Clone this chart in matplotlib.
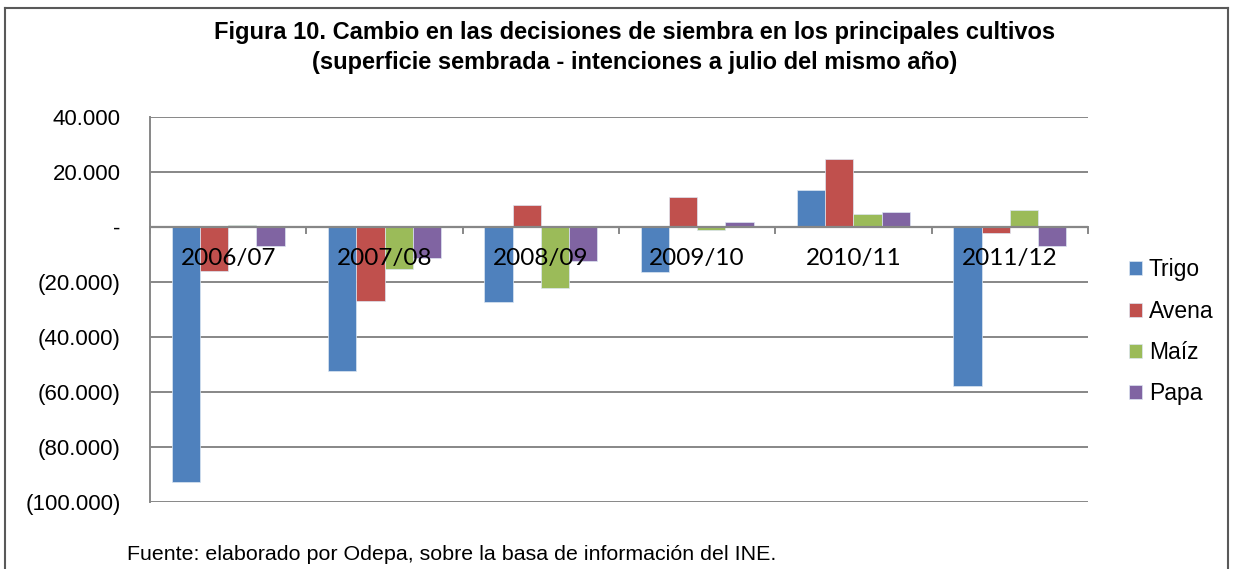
import matplotlib
matplotlib.use('Agg')
import matplotlib.pyplot as plt
import numpy as np
from matplotlib.lines import Line2D
from matplotlib.ticker import FuncFormatter

# Data
seasons = ['2006/07', '2007/08', '2008/09', '2009/10', '2010/11', '2011/12']
trigo = [-92800, -52300, -27200, -16600, 13300, -57700]
avena = [-16000, -27000, 8000, 10800, 24800, -2200]
maiz = [500, -15400, -22400, -1300, 4500, 6200]
papa = [-7100, -11200, -12600, 1800, 5200, -6900]
series_names = ['Trigo', 'Avena', 'Maíz', 'Papa']
colors = ['#4F81BD', '#C0504D', '#9BBB59', '#8064A2']

W, H = 1233, 569
fig = plt.figure(figsize=(W / 100, H / 100), dpi=100)
ax = fig.add_axes([150 / W, 1 - 502 / H, (1088 - 150) / W, (502 - 116.7) / H])

x = np.arange(len(seasons))
bw = 0.181
for i, (vals, name, col) in enumerate(zip([trigo, avena, maiz, papa], series_names, colors)):
    ax.bar(x - 1.5 * bw + i * bw, vals, bw, color=col, label=name,
           edgecolor='#dce6f2', linewidth=0.5, zorder=3)

ax.set_xlim(-0.5, len(seasons) - 0.5)
ax.set_ylim(-100000, 40000)
ax.set_yticks(np.arange(-100000, 40001, 20000))


def fmt(v, pos):
    if v == 0:
        return '-'
    s = f'{abs(v):,.0f}'.replace(',', '.')
    return f'({s})' if v < 0 else s


ax.yaxis.set_major_formatter(FuncFormatter(fmt))
ax.tick_params(axis='y', length=0, pad=21, labelsize=16)
for lab in ax.get_yticklabels():
    lab.set_fontfamily('Liberation Sans')

ax.grid(axis='y', color='#878787', linewidth=1.4, zorder=0)
for s in ['top', 'right', 'bottom']:
    ax.spines[s].set_visible(False)
ax.spines['left'].set_color('#878787')
ax.spines['left'].set_linewidth(1.4)

# zero axis with category tick marks
ax.axhline(0, color='#878787', linewidth=1.6, zorder=4)
ax.set_xticks([])
for b in np.arange(-0.5, len(seasons), 1.0):
    ax.plot([b, b], [0, -2200], color='#878787', linewidth=1.4, zorder=4, clip_on=False)
for xi, lab in zip(x, seasons):
    ax.text(xi, -11600, lab, ha='center', va='center', fontsize=17.5,
            family='Lato', zorder=5)

# legend
leg = ax.legend(loc='upper left', bbox_to_anchor=(1118 / W, 1 - 247 / H),
                bbox_transform=fig.transFigure, frameon=False,
                prop={'family': 'Liberation Sans', 'size': 16.5},
                handlelength=0.55, handleheight=0.55, handletextpad=0.3,
                labelspacing=0.8, borderpad=0)

# titles and source
fig.text(635 / W, 1 - 33 / H, 'Figura 10. Cambio en las decisiones de siembra en los principales cultivos',
         ha='center', va='center', fontsize=17, fontweight='bold', family='Liberation Sans')
fig.text(635 / W, 1 - 62 / H, '(superficie sembrada - intenciones a julio del mismo año)',
         ha='center', va='center', fontsize=17, fontweight='bold', family='Liberation Sans')
fig.text(127 / W, 1 - 555 / H, 'Fuente: elaborado por Odepa, sobre la basa de información del INE.',
         ha='left', va='center', fontsize=15.4, family='Liberation Sans')

# outer frame (no bottom edge)
fc = '#595959'
fig.add_artist(Line2D([5 / W, 5 / W], [0, 1 - 8 / H], transform=fig.transFigure, color=fc, lw=1.5))
fig.add_artist(Line2D([1228 / W, 1228 / W], [0, 1 - 8 / H], transform=fig.transFigure, color=fc, lw=1.5))
fig.add_artist(Line2D([5 / W, 1228 / W], [1 - 8 / H, 1 - 8 / H], transform=fig.transFigure, color=fc, lw=1.5))

fig.savefig('out.png', dpi=100)
